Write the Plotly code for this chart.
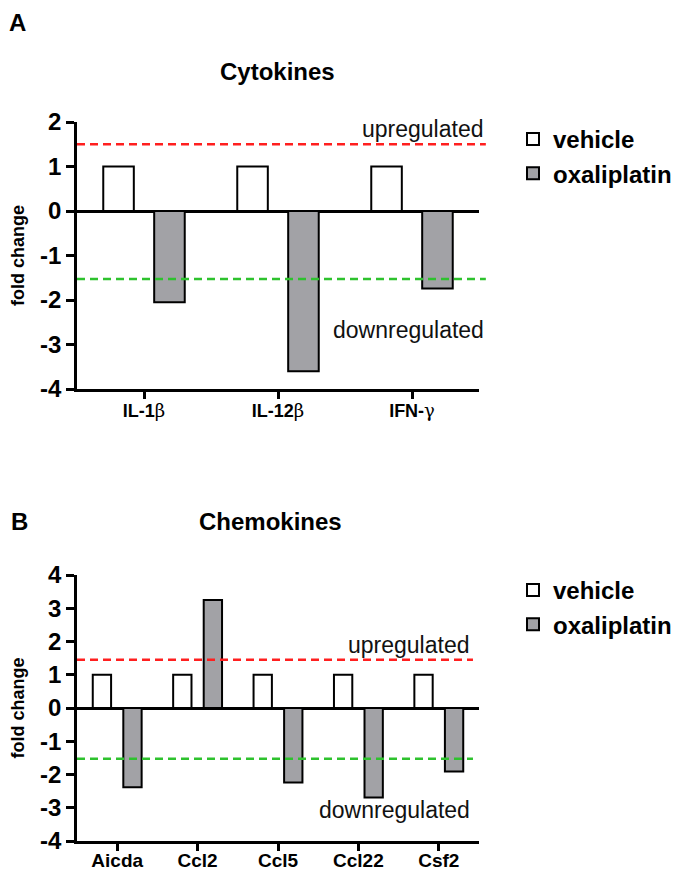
import plotly.graph_objects as go

# Panel A - cytokines
cytokines = ["IL-1β", "IL-12β", "IFN-γ"]
cyto_vehicle = [1, 1, 1]
cyto_oxaliplatin = [-2.05, -3.6, -1.74]
cyto_up, cyto_down = 1.5, -1.53

# Panel B - chemokines
chemokines = ["Aicda", "Ccl2", "Ccl5", "Ccl22", "Csf2"]
chemo_vehicle = [1, 1, 1, 1, 1]
chemo_oxaliplatin = [-2.38, 3.25, -2.24, -2.69, -1.91]
chemo_up, chemo_down = 1.45, -1.53

W, H = 682, 870
OFF = 8  # margem padrao do <body> na pagina
FONT = "Arial, Liberation Sans, sans-serif"


def px(x):
    return (x - OFF) / W


def py(y):
    return 1 - (y - OFF) / H


def greek(label):
    # letras gregas em fonte normal, como no original
    for g in ("β", "γ"):
        label = label.replace(g, f"<span style='font-weight:normal;font-family:DejaVu Serif'>{g}</span>")
    return label


fig = go.Figure()

bar_line = dict(color="black", width=2)
fig.add_trace(go.Bar(x=cytokines, y=cyto_vehicle, name="vehicle",
                     marker=dict(color="white", line=bar_line),
                     xaxis="x", yaxis="y", legend="legend"))
fig.add_trace(go.Bar(x=cytokines, y=cyto_oxaliplatin, name="oxaliplatin",
                     marker=dict(color="#a2a2a6", line=bar_line),
                     xaxis="x", yaxis="y", legend="legend"))
fig.add_trace(go.Bar(x=chemokines, y=chemo_vehicle, name="vehicle",
                     marker=dict(color="white", line=bar_line),
                     xaxis="x2", yaxis="y2", legend="legend2"))
fig.add_trace(go.Bar(x=chemokines, y=chemo_oxaliplatin, name="oxaliplatin",
                     marker=dict(color="#a2a2a6", line=bar_line),
                     xaxis="x2", yaxis="y2", legend="legend2"))

xcommon = dict(
    domain=[px(77), px(479)], automargin=False,
    showline=True, linecolor="black", linewidth=2.5,
    ticks="outside", ticklen=7, tickwidth=2.5, tickcolor="black",
    showgrid=False, zeroline=False,
)
ycommon = dict(
    automargin=False,
    showline=True, linecolor="black", linewidth=2.5,
    ticks="outside", ticklen=8, tickwidth=2.5, tickcolor="black",
    showgrid=False,
    zeroline=True, zerolinecolor="black", zerolinewidth=2.5,
    tickfont=dict(family=FONT, size=24, color="black", weight="bold"),
    title=dict(text="fold change", standoff=15,
               font=dict(family=FONT, size=18, color="black", weight="bold")),
)

fig.update_layout(
    width=W, height=H,
    margin=dict(l=0, r=0, t=0, b=0),
    plot_bgcolor="white", paper_bgcolor="white",
    barmode="group", bargap=0.24, bargroupgap=0.4,
    font=dict(family=FONT, color="black"),
    xaxis=dict(**xcommon, anchor="y", ticklabelstandoff=-3,
               tickmode="array", tickvals=cytokines, ticktext=[greek(c) for c in cytokines],
               tickfont=dict(family=FONT, size=18, color="black", weight="bold")),
    yaxis=dict(**ycommon, anchor="x", domain=[py(389), py(122)], range=[-4, 2],
               tickmode="array", tickvals=list(range(-4, 3)),
               ticktext=[str(v) for v in range(-4, 3)]),
    xaxis2=dict(**xcommon, anchor="y2", ticklabelstandoff=-7,
                tickfont=dict(family=FONT, size=19, color="black", weight="bold")),
    yaxis2=dict(**ycommon, anchor="x2", domain=[py(841), py(575)], range=[-4, 4],
                tickmode="array", tickvals=list(range(-4, 5)),
                ticktext=[str(v) for v in range(-4, 5)]),
    legend=dict(x=px(513), y=py(117), xanchor="left", yanchor="top",
                bgcolor="rgba(0,0,0,0)",
                font=dict(family=FONT, size=24, color="black", weight="bold")),
    legend2=dict(x=px(513), y=py(568), xanchor="left", yanchor="top",
                 bgcolor="rgba(0,0,0,0)",
                 font=dict(family=FONT, size=24, color="black", weight="bold")),
)

# linhas de corte (up/down)
for xr, yr, x1, up, down in [("x domain", "y", 1.017, cyto_up, cyto_down),
                             ("x2 domain", "y2", 0.985, chemo_up, chemo_down)]:
    fig.add_shape(type="line", xref=xr, yref=yr, x0=0, x1=x1, y0=up, y1=up,
                  line=dict(color="#ff1f1f", width=2.5, dash="8px,5px"))
    fig.add_shape(type="line", xref=xr, yref=yr, x0=0, x1=x1, y0=down, y1=down,
                  line=dict(color="#2ec22e", width=2.5, dash="8px,5px"))

label_font = dict(family=FONT, size=23, color="#111111")
fig.add_annotation(text="upregulated", xref="x domain", yref="y", x=1.017, y=cyto_up,
                   xanchor="right", yanchor="bottom", showarrow=False, font=label_font)
fig.add_annotation(text="downregulated", xref="x domain", yref="y", x=1.017, y=-2.67,
                   xanchor="right", yanchor="middle", showarrow=False, font=label_font)
fig.add_annotation(text="upregulated", xref="x2 domain", yref="y2", x=0.983, y=chemo_up,
                   xanchor="right", yanchor="bottom", showarrow=False, font=label_font)
fig.add_annotation(text="downregulated", xref="x2 domain", yref="y2", x=0.983, y=-3.06,
                   xanchor="right", yanchor="middle", showarrow=False, font=label_font)

# titulos e letras dos paineis
title_font = dict(family=FONT, size=24, color="black", weight="bold")
fig.add_annotation(text="Cytokines", xref="paper", yref="paper", x=px(277), y=py(71),
                   xanchor="center", yanchor="middle", showarrow=False, font=title_font)
fig.add_annotation(text="Chemokines", xref="paper", yref="paper", x=px(270), y=py(521),
                   xanchor="center", yanchor="middle", showarrow=False, font=title_font)
fig.add_annotation(text="A", xref="paper", yref="paper", x=px(8), y=py(8),
                   xanchor="left", yanchor="top", showarrow=False, borderpad=0,
                   font=dict(family=FONT, size=24, color="black", weight="bold"))
fig.add_annotation(text="B", xref="paper", yref="paper", x=px(9), y=py(521),
                   xanchor="left", yanchor="middle", showarrow=False, font=title_font)

fig.write_html("out.html")
